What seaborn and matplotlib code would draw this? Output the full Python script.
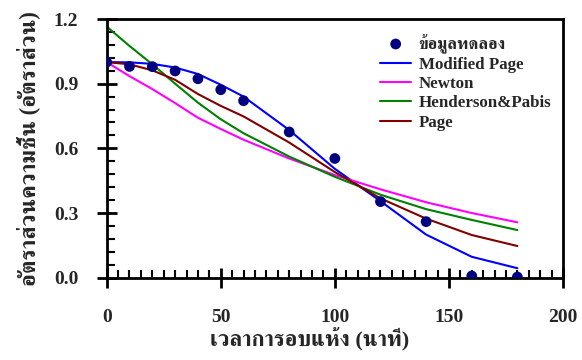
# Drying curve: experimental moisture ratio vs thin-layer models
import matplotlib
matplotlib.use("Agg")
import matplotlib.pyplot as plt
from matplotlib.ticker import MultipleLocator, FormatStrFormatter
import seaborn as sns
import pandas as pd

# time (minutes)
t_exp = [0, 10, 20, 30, 40, 50, 60, 80, 100, 120, 140, 160, 180]
mr_exp = [1.0, 0.98, 0.979, 0.959, 0.923, 0.872, 0.821, 0.676, 0.553, 0.353, 0.26, 0.008, 0.003]

t_model = [0, 10, 20, 30, 40, 50, 60, 80, 100, 120, 140, 160, 180]
mr_modpage = [1.0, 0.999, 0.992, 0.975, 0.945, 0.895, 0.84, 0.685, 0.505, 0.355, 0.2, 0.097, 0.044]
mr_newton = [1.0, 0.935, 0.875, 0.81, 0.742, 0.69, 0.64, 0.553, 0.476, 0.41, 0.35, 0.3, 0.257]
mr_henderson = [1.165, 1.075, 0.99, 0.9, 0.812, 0.735, 0.67, 0.562, 0.468, 0.385, 0.318, 0.268, 0.221]
mr_page = [1.0, 0.99, 0.962, 0.918, 0.852, 0.797, 0.748, 0.627, 0.49, 0.368, 0.274, 0.198, 0.147]

model_names = ["Modified Page", "Newton", "Henderson&Pabis", "Page"]
model_colors = ["#0000ff", "#ff00ff", "#008000", "#800000"]

df = pd.DataFrame({
    "t": t_model * 4,
    "mr": mr_modpage + mr_newton + mr_henderson + mr_page,
    "model": sum([[m] * len(t_model) for m in model_names], []),
})
exp_df = pd.DataFrame({"t": t_exp, "mr": mr_exp})

sns.set_style("ticks")
plt.rcParams['font.family'] = ['Liberation Serif', 'FreeSerif', 'DejaVu Sans']
plt.rcParams['font.weight'] = 'bold'

fig, ax = plt.subplots(figsize=(5.82, 3.6), dpi=100)
fig.subplots_adjust(left=0.1833, right=0.9674, top=0.9472, bottom=0.2286)

sns.scatterplot(data=exp_df, x="t", y="mr", ax=ax, color="#000080", s=60,
                edgecolor="none", label="ข้อมูลทดลอง", zorder=5)
sns.lineplot(data=df, x="t", y="mr", hue="model", hue_order=model_names,
             palette=model_colors, ax=ax, linewidth=1.5, sort=False)

ax.set_xlim(0, 200)
ax.set_ylim(0, 1.2)
ax.xaxis.set_major_locator(MultipleLocator(50))
ax.xaxis.set_minor_locator(MultipleLocator(5))
ax.yaxis.set_major_locator(MultipleLocator(0.3))
ax.yaxis.set_minor_locator(MultipleLocator(0.06))
ax.yaxis.set_major_formatter(FormatStrFormatter('%.1f'))

ax.tick_params(which='major', direction='inout', length=15, width=2, labelsize=14, color='black')
ax.tick_params(axis='x', which='major', pad=15)
ax.tick_params(axis='y', which='major', pad=13)
ax.tick_params(which='minor', direction='in', length=6, width=1.5, color='black',
               bottom=True, left=True)
for lab in ax.get_xticklabels() + ax.get_yticklabels():
    lab.set_fontweight('bold')
for sp in ax.spines.values():
    sp.set_visible(True)
    sp.set_linewidth(2)
    sp.set_color('black')

ax.set_xlabel("เวลาการอบแห้ง (นาที)", fontsize=16, fontweight='bold')
ax.xaxis.set_label_coords(0.4455, -0.19)
ax.set_ylabel("อัตราส่วนความชื้น (อัตราส่วน)", fontsize=16.5, fontweight='bold', labelpad=10)

leg = ax.legend(loc='upper right', bbox_to_anchor=(1.0, 0.99), frameon=False,
                prop={'size': 12.2, 'weight': 'bold'}, handlelength=1.8,
                handletextpad=0.45, labelspacing=0.2, borderaxespad=0.3)

fig.savefig("out.png", dpi=100)
